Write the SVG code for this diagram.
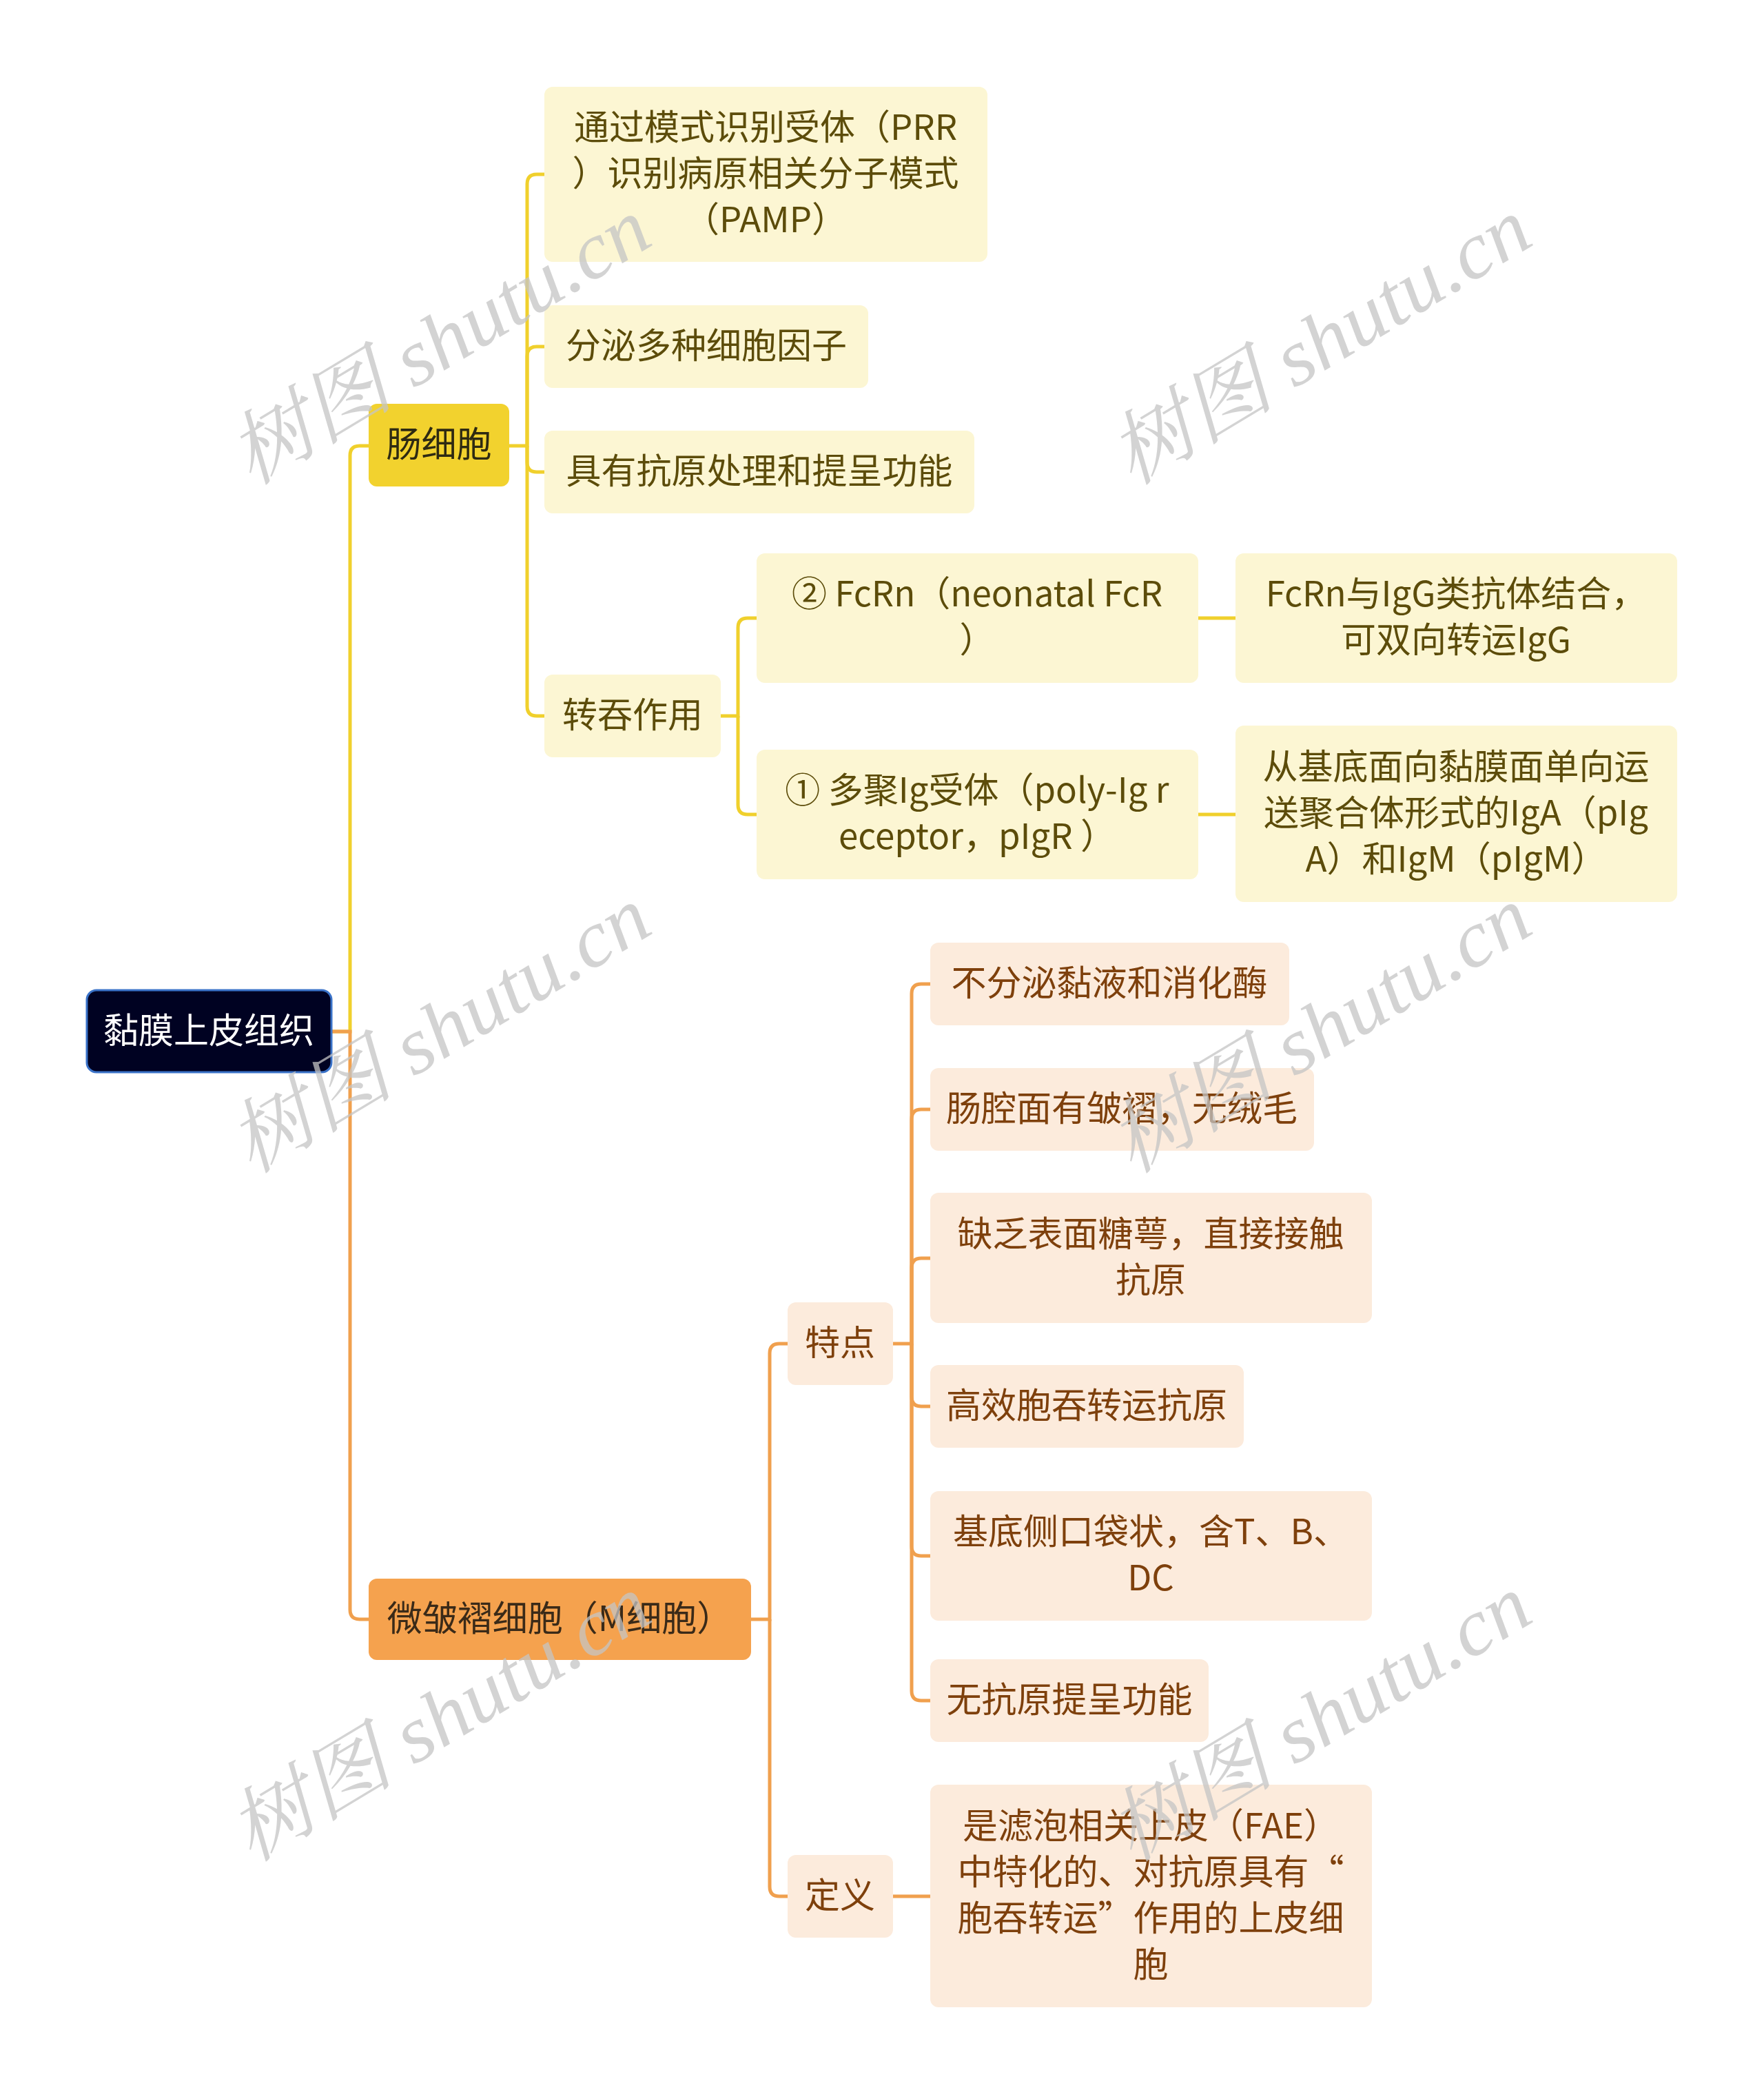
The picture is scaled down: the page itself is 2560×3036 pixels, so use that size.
<svg xmlns="http://www.w3.org/2000/svg" width="2560" height="3036" viewBox="0 0 2560 3036">
<style>
text{font-family:"Noto Sans CJK SC","Noto Sans",sans-serif;font-size:51px;text-anchor:middle;dominant-baseline:central}
g[id^="n-"] text,#root text{transform:translateY(-5px)}
.y{fill:none;stroke:#f0d02c;stroke-width:5}
.o{fill:none;stroke:#f0a04e;stroke-width:5}
.root rect{fill:#000222;stroke:#3a72c8;stroke-width:3}
.root text{fill:#ffffff}
.ym rect{fill:#f2d22e}
.ym text{fill:#2e2a12}
.yl rect{fill:#fcf6d3}
.yl text{fill:#5c4c0a}
.om rect{fill:#f5a24e}
.om text{fill:#3a2a18}
.ol rect{fill:#fcebdc}
.ol text{fill:#7e400c}
.wm{font-family:"Liberation Serif","Noto Serif CJK SC","Noto Sans CJK SC",serif;font-style:italic;font-size:116px;fill:#c4c4c4;fill-opacity:0.75}
</style>
<g id="connectors">
<path class="y" d="M481 1497 H508 V661 Q508 647 522 647 H536"/>
<path class="o" d="M481 1497 H508 V2336 Q508 2350 522 2350 H536"/>
<path class="y" d="M739 647 H765 V267 Q765 253 779 253 H790"/>
<path class="y" d="M765 647 V517 Q765 503 779 503 H790"/>
<path class="y" d="M765 647 V671 Q765 685 779 685 H790"/>
<path class="y" d="M765 647 V1025 Q765 1039 779 1039 H790"/>
<path class="y" d="M1046 1039 H1071 V911 Q1071 897 1085 897 H1098"/>
<path class="y" d="M1071 1039 V1168 Q1071 1182 1085 1182 H1098"/>
<path class="y" d="M1739 897 H1793"/>
<path class="y" d="M1739 1182 H1793"/>
<path class="o" d="M1090 2350 H1117 V1964 Q1117 1950 1131 1950 H1143"/>
<path class="o" d="M1117 2350 V2738 Q1117 2752 1131 2752 H1143"/>
<path class="o" d="M1296 1950 H1323 V1442 Q1323 1428 1337 1428 H1350"/>
<path class="o" d="M1323 1950 V1624 Q1323 1610 1337 1610 H1350"/>
<path class="o" d="M1323 1950 V1840 Q1323 1826 1337 1826 H1350"/>
<path class="o" d="M1323 1950 V2027 Q1323 2041 1337 2041 H1350"/>
<path class="o" d="M1323 1950 V2244 Q1323 2258 1337 2258 H1350"/>
<path class="o" d="M1323 1950 V2454 Q1323 2468 1337 2468 H1350"/>
<path class="o" d="M1296 2752 H1350"/>
</g>
<g id="root" class="root"><rect x="126" y="1437" width="355" height="119" rx="14"/><text x="303" y="1497">黏膜上皮组织</text></g>
<g id="n-changxibao" class="ym"><rect x="535" y="586" width="204" height="120" rx="12"/><text x="637" y="646">肠细胞</text></g>
<g id="n-prr" class="yl"><rect x="790" y="126" width="643" height="254" rx="12"/><text x="1111" y="186">通过模式识别受体（PRR</text><text x="1111" y="253">）识别病原相关分子模式</text><text x="1111" y="320">（PAMP）</text></g>
<g id="n-fenmi" class="yl"><rect x="790" y="443" width="470" height="120" rx="12"/><text x="1025" y="503">分泌多种细胞因子</text></g>
<g id="n-kangyuan" class="yl"><rect x="790" y="625" width="624" height="120" rx="12"/><text x="1102" y="685">具有抗原处理和提呈功能</text></g>
<g id="n-zhuantun" class="yl"><rect x="790" y="979" width="256" height="120" rx="12"/><text x="918" y="1039">转吞作用</text></g>
<g id="n-fcrn" class="yl"><rect x="1098" y="803" width="641" height="188" rx="12"/><text x="1418" y="863">② FcRn（neonatal FcR</text><text x="1418" y="930">）</text></g>
<g id="n-fcrn-desc" class="yl"><rect x="1793" y="803" width="641" height="188" rx="12"/><text x="2113" y="863">FcRn与IgG类抗体结合，</text><text x="2113" y="930">可双向转运IgG</text></g>
<g id="n-pigr" class="yl"><rect x="1098" y="1088" width="641" height="188" rx="12"/><text x="1418" y="1148">① 多聚Ig受体（poly-Ig r</text><text x="1418" y="1215">eceptor，pIgR ）</text></g>
<g id="n-pigr-desc" class="yl"><rect x="1793" y="1053" width="641" height="256" rx="12"/><text x="2113" y="1114">从基底面向黏膜面单向运</text><text x="2113" y="1181">送聚合体形式的IgA（pIg</text><text x="2113" y="1248">A）和IgM（pIgM）</text></g>
<g id="n-mcell" class="om"><rect x="535" y="2291" width="555" height="118" rx="12"/><text x="812" y="2350">微皱褶细胞（M细胞）</text></g>
<g id="n-tedian" class="ol"><rect x="1143" y="1890" width="153" height="120" rx="12"/><text x="1219" y="1950">特点</text></g>
<g id="n-dingyi" class="ol"><rect x="1143" y="2692" width="153" height="120" rx="12"/><text x="1219" y="2752">定义</text></g>
<g id="n-a" class="ol"><rect x="1350" y="1368" width="521" height="120" rx="12"/><text x="1610" y="1428">不分泌黏液和消化酶</text></g>
<g id="n-b" class="ol"><rect x="1350" y="1550" width="557" height="120" rx="12"/><text x="1628" y="1610">肠腔面有皱褶，无绒毛</text></g>
<g id="n-c" class="ol"><rect x="1350" y="1731" width="641" height="189" rx="12"/><text x="1670" y="1792">缺乏表面糖萼，直接接触</text><text x="1670" y="1859">抗原</text></g>
<g id="n-d" class="ol"><rect x="1350" y="1981" width="455" height="120" rx="12"/><text x="1577" y="2041">高效胞吞转运抗原</text></g>
<g id="n-e" class="ol"><rect x="1350" y="2164" width="641" height="188" rx="12"/><text x="1670" y="2224">基底侧口袋状，含T、B、</text><text x="1670" y="2291">DC</text></g>
<g id="n-f" class="ol"><rect x="1350" y="2408" width="404" height="120" rx="12"/><text x="1552" y="2468">无抗原提呈功能</text></g>
<g id="n-def" class="ol"><rect x="1350" y="2590" width="641" height="323" rx="12"/><text x="1670" y="2651">是滤泡相关上皮（FAE）</text><text x="1670" y="2718">中特化的、对抗原具有“</text><text x="1670" y="2785">胞吞转运”作用的上皮细</text><text x="1670" y="2852">胞</text></g>
<g id="watermarks">
<text class="wm" transform="translate(638 496) rotate(-31)" textLength="685" lengthAdjust="spacingAndGlyphs">树图 shutu.cn</text>
<text class="wm" transform="translate(1916 496) rotate(-31)" textLength="685" lengthAdjust="spacingAndGlyphs">树图 shutu.cn</text>
<text class="wm" transform="translate(638 1495) rotate(-31)" textLength="685" lengthAdjust="spacingAndGlyphs">树图 shutu.cn</text>
<text class="wm" transform="translate(1916 1495) rotate(-31)" textLength="685" lengthAdjust="spacingAndGlyphs">树图 shutu.cn</text>
<text class="wm" transform="translate(638 2494) rotate(-31)" textLength="685" lengthAdjust="spacingAndGlyphs">树图 shutu.cn</text>
<text class="wm" transform="translate(1916 2494) rotate(-31)" textLength="685" lengthAdjust="spacingAndGlyphs">树图 shutu.cn</text>
</g>
</svg>
